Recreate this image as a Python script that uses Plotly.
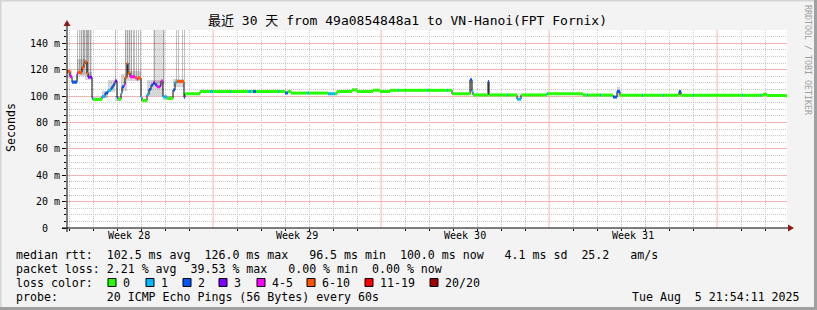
import plotly.graph_objects as go
from datetime import datetime, timedelta

# ---------------- data ----------------
START = datetime(2025, 7, 6, 21, 54, 11)
SPAN_H = 720  # 30 days, hour offsets below are relative to START

# median rtt steps: start hour offset, median (ms), loss class
med_h = [0, 3, 5, 10, 11, 15, 17, 18, 20, 21, 25, 26, 35, 38, 41, 44, 46, 48, 50, 51,
         54, 55, 57, 58, 60, 61, 63, 68, 70, 71, 74, 75, 80, 82, 84, 86, 88, 90, 93, 94,
         96, 100, 106, 108, 110, 117, 118, 133, 143, 146, 163, 164, 181, 184, 186, 189,
         211, 212, 218, 221, 224, 240, 242, 261, 268, 270, 285, 290, 306, 313, 323, 331,
         332, 360, 361, 380, 381, 385, 403, 405, 406, 421, 422, 440, 441, 450, 454, 480,
         481, 516, 520, 521, 533, 534, 546, 550, 553, 575, 576, 596, 597, 612, 614, 626,
         627, 675, 676, 693, 694, 696, 700, 719]
med_rtt = [118.6, 114.8, 110.5, 116.6, 117.8, 121.5, 124.0, 126.0, 117.0, 114.3, 98.6, 97.4,
           99.6, 102.2, 104.3, 106.2, 108.6, 111.3, 98.8, 97.6, 102.0, 107.0, 108.4, 114.0,
           125.0, 117.5, 114.6, 113.8, 112.6, 113.6, 99.0, 96.5, 101.0, 105.0, 108.2, 109.8,
           108.6, 107.0, 107.8, 111.4, 99.4, 98.2, 104.5, 110.4, 111.0, 99.0, 101.7, 103.4,
           103.4, 103.4, 103.4, 103.4, 103.4, 103.4, 103.4, 103.4, 103.4, 103.4, 102.3, 103.4,
           102.2, 102.2, 102.2, 101.7, 101.7, 103.4, 104.7, 103.4, 104.4, 103.4, 104.3, 104.3,
           104.3, 104.3, 104.3, 104.3, 104.3, 101.7, 112.3, 103.4, 100.8, 111.0, 100.8, 100.8,
           100.8, 97.6, 100.8, 101.7, 101.7, 100.7, 100.7, 100.7, 100.7, 100.7, 99.2, 103.4,
           100.6, 100.6, 100.6, 100.6, 100.6, 103.4, 100.5, 100.5, 100.5, 100.5, 100.5, 100.5,
           100.5, 101.3, 100.4, 100.0]
med_loss = ["6-10", "4-5", "2", "4-5", "6-10", "6-10", "6-10", "6-10", "6-10", "3", "2", "0",
            "1", "2", "1", "2", "2", "3", "2", "0", "1", "2", "4-5", "6-10", "6-10", "6-10",
            "4-5", "6-10", "4-5", "6-10", "1", "0", "1", "2", "2", "3", "2", "4-5", "3", "4-5",
            "1", "0", "2", "1", "6-10", "2", "0", "0", "1", "0", "1", "0", "1", "0", "2", "0",
            "1", "0", "2", "0", "0", "1", "0", "1", "0", "0", "0", "0", "0", "0", "0", "1",
            "0", "1", "0", "1", "0", "0", "2", "1", "0", "2", "0", "1", "0", "1", "0", "1",
            "0", "0", "1", "0", "1", "0", "2", "2", "0", "1", "0", "1", "0", "2", "0", "1",
            "0", "1", "0", "1", "0", "0", "0", "0"]

loss_classes = ["0", "1", "2", "3", "4-5", "6-10", "11-19", "20/20"]
loss_colors = ["#26ff00", "#00b8ff", "#0059ff", "#7e00ff", "#ff00ff", "#ff5500", "#ff0000", "#a10000"]

# smoke around the median (hour span, low ms, high ms)
fuzz_h0 = [0, 5, 10, 18, 25, 35, 41, 48, 54, 60, 74, 80, 96, 106, 117, 403, 421, 550, 612]
fuzz_h1 = [5, 10, 18, 25, 35, 41, 48, 54, 60, 74, 80, 96, 106, 117, 133, 405, 422, 553, 614]
fuzz_lo = [114, 109, 115, 112, 96.5, 98.5, 103, 96.5, 104, 111, 95.5, 100, 97, 107, 100.8, 101, 100.5, 100, 100]
fuzz_hi = [120, 112, 128, 118, 99, 104, 112, 100, 117, 119, 98, 112, 100, 113, 102.5, 113, 112, 107, 104]

# light smoke regions where a few pings were far off the scale
shade_h0 = [13, 58, 86]
shade_h1 = [25, 65, 98]
shade_lo = [116, 116, 109]
shade_hi = [170, 170, 170]

# individual hours with very slow pings (off the scale)
spike_h = [10, 12, 14, 16, 17, 19, 20, 21, 23, 48, 58, 60, 62, 64, 66, 67, 69, 71, 73, 87, 96, 109, 111, 115, 117]
spike_lo = [112, 118, 118, 122, 124, 118, 116, 115, 115, 111, 114, 120, 117, 115, 115, 114, 113, 113, 113,
            110, 111, 111, 111, 111, 111]
spike_hi = [170] * len(spike_h)

# axis labels
week_mid = ["2025-07-09 12:00", "2025-07-16 12:00", "2025-07-23 12:00", "2025-07-30 12:00"]
week_text = ["Week 28", "Week 29", "Week 30", "Week 31"]
week_start = ["2025-07-13", "2025-07-20", "2025-07-27", "2025-08-03"]
y_ticks = [0, 20, 40, 60, 80, 100, 120, 140]
y_text = ["0\u00a0\u00a0", "20 m", "40 m", "60 m", "80 m", "100 m", "120 m", "140 m"]
Y_MAX = 150

title = "最近 30 天 from 49a0854848a1 to VN-Hanoi(FPT Fornix)"
legend_lines = [
    "median rtt:  102.5 ms avg  126.0 ms max   96.5 ms min  100.0 ms now   4.1 ms sd  25.2   am/s",
    "packet loss: 2.21 % avg  39.53 % max   0.00 % min  0.00 % now",
    "loss color:",
    "probe:       20 ICMP Echo Pings (56 Bytes) every 60s",
]
stamp = "Tue Aug  5 21:54:11 2025"

# ---------------- helpers ----------------
W, H = 817, 310
L, R, T, B = 67, 30, 30, 82
PW, PH = W - L - R, H - T - B


def t(h):
    return START + timedelta(hours=h)


def px(x):
    return (x - L) / PW


def py(y):
    return (H - B - y) / PH


MONO = "DejaVu Sans Mono, Noto Sans CJK SC, monospace"
HOUR_MS = 3600 * 1000
GRID_MINOR = "#c8c8c8"
GRID_MAJOR = "#f5b4b4"

# minor grid positions (days / 5 ms) that are not on a major line
first_day = datetime(2025, 7, 7)
week_dates = [datetime.fromisoformat(w) for w in week_start]
day_minor = [first_day + timedelta(days=d) for d in range(30)]
day_minor = [d for d in day_minor if d not in week_dates]
y_minor = [v for v in range(5, Y_MAX + 1, 5) if v not in y_ticks]

fig = go.Figure()

# weekly (major) vertical grid lines
wx, wy = [], []
for d in week_dates:
    wx += [d, d, None]
    wy += [0, Y_MAX, None]
fig.add_trace(go.Scatter(x=wx, y=wy, mode="lines", line=dict(color=GRID_MAJOR, width=1),
                         showlegend=False, hoverinfo="skip"))


def add_bars(h0, h1, lo, hi, color):
    fig.add_trace(go.Bar(
        x=[t((a + b) / 2) for a, b in zip(h0, h1)],
        y=[b - a for a, b in zip(lo, hi)],
        base=lo,
        width=[(b - a) * HOUR_MS for a, b in zip(h0, h1)],
        marker=dict(color=color, line=dict(width=0)),
        showlegend=False, hoverinfo="skip"))


add_bars(shade_h0, shade_h1, shade_lo, shade_hi, "rgba(0,0,0,0.12)")
add_bars(spike_h, [h + 1 for h in spike_h], spike_lo, spike_hi, "rgba(0,0,0,0.25)")
add_bars(fuzz_h0, fuzz_h1, fuzz_lo, fuzz_hi, "rgba(0,0,0,0.16)")

# black step line of the median
ends = med_h[1:] + [SPAN_H]
fig.add_trace(go.Scatter(
    x=[t(h) for h in med_h] + [t(SPAN_H)],
    y=med_rtt + [med_rtt[-1]],
    mode="lines", line=dict(color="black", width=1, shape="hv"),
    showlegend=False, hoverinfo="skip"))

# coloured median segments by loss
for cls, col in zip(loss_classes, loss_colors):
    xs, ys = [], []
    for h0, h1, v, c in zip(med_h, ends, med_rtt, med_loss):
        if c == cls:
            xs += [t(h0), t(h1), None]
            ys += [v, v, None]
    if xs:
        fig.add_trace(go.Scatter(x=xs, y=ys, mode="lines",
                                 line=dict(color=col, width=3),
                                 showlegend=False, hoverinfo="skip"))

fig.update_layout(
    width=W, height=H,
    margin=dict(l=L, r=R, t=T, b=B),
    paper_bgcolor="#f3f3f3", plot_bgcolor="#ffffff",
    barmode="overlay", bargap=0,
    font=dict(family=MONO, color="black", size=10),
    xaxis=dict(
        type="date", range=[t(0), t(SPAN_H)],
        tickvals=week_mid, ticktext=week_text, ticks="",
        showgrid=False, zeroline=False, showline=False,
        tickfont=dict(family=MONO, size=10, color="black"),
        minor=dict(tickmode="array", tickvals=day_minor, showgrid=True,
                   gridcolor=GRID_MINOR, griddash="1px,1px", gridwidth=1,
                   ticks="outside", ticklen=2, tickcolor="black"),
        fixedrange=True,
    ),
    yaxis=dict(
        range=[0, Y_MAX], tickvals=y_ticks, ticktext=y_text,
        showgrid=True, gridcolor=GRID_MAJOR, gridwidth=1,
        zeroline=False, showline=False,
        ticks="outside", ticklen=4, tickcolor="black",
        tickfont=dict(family=MONO, size=10, color="black"),
        minor=dict(tickmode="array", tickvals=y_minor, showgrid=True, gridcolor=GRID_MINOR,
                   griddash="1px,1px", gridwidth=1,
                   ticks="outside", ticklen=2, tickcolor="black"),
        fixedrange=True,
    ),
)

shapes = []
# axes lines
shapes.append(dict(type="line", xref="paper", yref="paper", x0=px(62), x1=px(789), y0=py(228), y1=py(228),
                   line=dict(color="black", width=1)))
shapes.append(dict(type="line", xref="paper", yref="paper", x0=px(67), x1=px(67), y0=py(232), y1=py(26),
                   line=dict(color="black", width=1)))
# arrows
shapes.append(dict(type="path", xref="paper", yref="paper",
                   path=f"M {px(788)},{py(224.5)} L {px(794)},{py(228)} L {px(788)},{py(231.5)} Z",
                   fillcolor="#8b1a1a", line=dict(width=0)))
shapes.append(dict(type="path", xref="paper", yref="paper",
                   path=f"M {px(63.5)},{py(26)} L {px(67)},{py(20)} L {px(70.5)},{py(26)} Z",
                   fillcolor="#8b1a1a", line=dict(width=0)))
# frame shading
shapes.append(dict(type="rect", xref="paper", yref="paper", x0=px(0), x1=px(W), y0=py(0), y1=py(1.5),
                   fillcolor="#d4d4d4", line=dict(width=0)))
shapes.append(dict(type="rect", xref="paper", yref="paper", x0=px(0), x1=px(1.5), y0=py(0), y1=py(H),
                   fillcolor="#d4d4d4", line=dict(width=0)))
shapes.append(dict(type="rect", xref="paper", yref="paper", x0=px(0), x1=px(W), y0=py(307), y1=py(H),
                   fillcolor="#a0a0a0", line=dict(width=0)))
shapes.append(dict(type="rect", xref="paper", yref="paper", x0=px(814), x1=px(W), y0=py(0), y1=py(H),
                   fillcolor="#a0a0a0", line=dict(width=0)))

# loss colour legend boxes
box_x = [108, 146, 183, 219, 257, 307, 365, 430]
for bx, col in zip(box_x, loss_colors):
    shapes.append(dict(type="rect", xref="paper", yref="paper",
                       x0=px(bx), x1=px(bx + 8), y0=py(278.5), y1=py(286.5),
                       fillcolor=col, line=dict(color="black", width=1)))
fig.update_layout(shapes=shapes)

ann = []


def text(x, y, s, size=11.6, anchor="left", color="black", angle=0):
    ann.append(dict(xref="paper", yref="paper", x=px(x), y=py(y), text=s.replace(" ", "\u00a0"),
                    showarrow=False, xanchor=anchor, yanchor="middle", textangle=angle,
                    borderpad=0, borderwidth=0,
                    font=dict(family=MONO, size=size, color=color)))


text(407.5, 20.5, title, size=13, anchor="center")
text(11, 128, "Seconds", size=11.6, anchor="center", angle=-90)
text(808, 60, "RRDTOOL / TOBI OETIKER", size=8.3, anchor="center", color="#a0a0a0", angle=90)

line_y = [254.5, 268.5, 282.5, 296.5]
for s, yy in zip(legend_lines, line_y):
    text(16, yy, s)
for bx, lab in zip(box_x, loss_classes):
    text(bx + 15, line_y[2], lab)
text(800, line_y[3], stamp, anchor="right")

fig.update_layout(annotations=ann)

fig.write_html("out.html")
